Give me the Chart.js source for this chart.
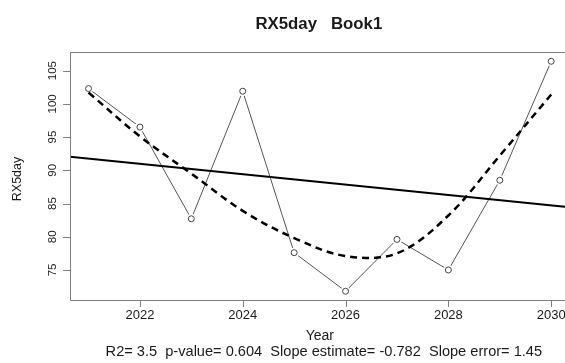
<!DOCTYPE html>
<html>
<head>
<meta charset="utf-8">
<script src="https://cdn.jsdelivr.net/npm/chart.js@4.4.1/dist/chart.umd.min.js"></script>
<style>
  html, body { margin: 0; padding: 0; background: #fff; overflow: hidden; width: 565px; height: 363px; }
  #wrap { width: 576px; height: 363px; }
</style>
</head>
<body>
<div id="wrap"><canvas id="c" width="576" height="363"></canvas></div>
<script>
// Annual RX5day series
const years = [2021, 2022, 2023, 2024, 2025, 2026, 2027, 2028, 2029, 2030];
const rx5day = [102.3, 96.5, 82.7, 101.9, 77.6, 71.8, 79.6, 75.0, 88.5, 106.4];

// Local (loess) smooth of the series
const smoothValues = [101.7, 95.1, 89.5, 83.9, 79.8, 77.1, 77.5, 83.2, 92.2, 101.4];

// Linear trend, drawn across the plotting range (slope -0.782 per year)
const trendYears = [2020.64, 2030.36];
const trendValues = [92.04, 84.44];

// Axis ranges and ticks
const xRange = [2020.64, 2030.36];
const yRange = [70.48, 107.8];
const xTicks = [2022, 2024, 2026, 2028, 2030];
const yTicks = [75, 80, 85, 90, 95, 100, 105];

const titleText = 'RX5day   Book1';
const xTitle = 'Year';
const yTitle = 'RX5day';
const subTitle = 'R2= 3.5  p-value= 0.604  Slope estimate= -0.782  Slope error= 1.45';

const pts = (xs, ys) => xs.map((x, i) => ({ x: x, y: ys[i] }));

const AXIS_COL = '#808080';
const TEXT_COL = '#1a1a1a';
const FONT = '"Liberation Sans", Arial, sans-serif';

// Axes, box, tick labels and titles in the base-graphics style
const frame = {
  id: 'frame',
  afterDraw(chart) {
    const ctx = chart.ctx;
    const a = chart.chartArea;
    const xs = chart.scales.x, ys = chart.scales.y;
    ctx.save();
    ctx.strokeStyle = AXIS_COL;
    ctx.lineWidth = 1;
    ctx.beginPath();
    ctx.moveTo(a.left + 0.5, a.top + 0.5);
    ctx.lineTo(a.right, a.top + 0.5);
    ctx.moveTo(a.left + 0.5, a.top);
    ctx.lineTo(a.left + 0.5, a.bottom + 0.5);
    ctx.lineTo(a.right, a.bottom + 0.5);
    ctx.lineTo(a.right, a.top);
    // y ticks
    yTicks.forEach(v => {
      const y = Math.round(ys.getPixelForValue(v)) + 0.5;
      ctx.moveTo(a.left - 7, y);
      ctx.lineTo(a.left, y);
    });
    // x ticks
    xTicks.forEach(v => {
      const x = Math.round(xs.getPixelForValue(v)) + 0.5;
      ctx.moveTo(x, a.bottom);
      ctx.lineTo(x, a.bottom + 7);
    });
    ctx.stroke();

    ctx.fillStyle = TEXT_COL;
    ctx.textAlign = 'center';
    ctx.textBaseline = 'middle';

    // y tick labels, rotated
    ctx.font = '11.5px ' + FONT;
    yTicks.forEach(v => {
      const y = ys.getPixelForValue(v);
      ctx.save();
      ctx.translate(a.left - 17.5, y);
      ctx.rotate(-Math.PI / 2);
      ctx.fillText(String(v), 0, 0);
      ctx.restore();
    });

    // x tick labels
    ctx.font = '13px ' + FONT;
    xTicks.forEach(v => {
      ctx.fillText(String(v), xs.getPixelForValue(v), a.bottom + 15);
    });

    const cx = (a.left + a.right) / 2;

    // y axis title
    ctx.save();
    ctx.font = '12.5px ' + FONT;
    ctx.translate(18, (a.top + a.bottom) / 2 + 3);
    ctx.rotate(-Math.PI / 2);
    ctx.fillText(yTitle, 0, 0);
    ctx.restore();

    // x axis title and subtitle
    ctx.font = '14px ' + FONT;
    ctx.fillText(xTitle, cx, 336);
    ctx.font = '14.6px ' + FONT;
    ctx.fillText(subTitle, cx + 4, 352);

    // main title
    ctx.font = 'bold 16.8px ' + FONT;
    ctx.fillText(titleText, cx - 1, 24);
    ctx.restore();
  }
};

new Chart(document.getElementById('c'), {
  type: 'scatter',
  data: {
    datasets: [
      {
        label: 'series-line',
        data: pts(years, rx5day),
        showLine: true,
        borderColor: '#555555',
        borderWidth: 1,
        pointRadius: 0,
        order: 5
      },
      {
        label: 'series-gap',
        data: pts(years, rx5day),
        showLine: false,
        pointRadius: 5,
        pointBackgroundColor: '#ffffff',
        pointBorderColor: '#ffffff',
        pointBorderWidth: 0,
        order: 4
      },
      {
        label: 'series-points',
        data: pts(years, rx5day),
        showLine: false,
        pointRadius: 3,
        pointBackgroundColor: '#ffffff',
        pointBorderColor: '#444444',
        pointBorderWidth: 1,
        order: 3
      },
      {
        label: 'trend',
        data: pts(trendYears, trendValues),
        showLine: true,
        borderColor: '#000000',
        borderWidth: 2,
        pointRadius: 0,
        order: 2
      },
      {
        label: 'smooth',
        data: pts(years, smoothValues),
        showLine: true,
        borderColor: '#000000',
        borderWidth: 2.5,
        borderDash: [7, 5],
        tension: 0.35,
        pointRadius: 0,
        order: 1
      }
    ]
  },
  options: {
    responsive: false,
    animation: false,
    devicePixelRatio: 1,
    events: [],
    layout: { padding: { left: 70, top: 52, right: 6.3, bottom: 63 } },
    scales: {
      x: { type: 'linear', min: xRange[0], max: xRange[1], display: false },
      y: { type: 'linear', min: yRange[0], max: yRange[1], display: false }
    },
    plugins: {
      legend: { display: false },
      tooltip: { enabled: false },
      title: { display: false }
    }
  },
  plugins: [frame]
});
</script>
</body>
</html>
